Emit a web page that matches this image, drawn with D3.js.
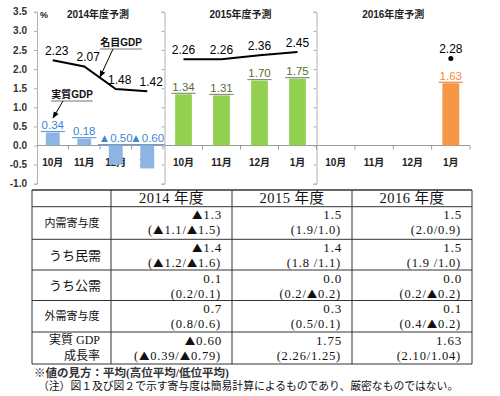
<!DOCTYPE html>
<html><head><meta charset="utf-8">
<script src="https://cdn.jsdelivr.net/npm/d3@7"></script>
<style>
html,body{margin:0;padding:0;background:#fff;}
svg{display:block;}
</style></head>
<body>
<svg id="c" width="500" height="396"></svg>
<script>
// ---------- data ----------
const months = ["10月","11月","12月","1月"];
const yTicks = [3.5,3.0,2.5,2.0,1.5,1.0,0.5,0.0,-0.5,-1.0];
const panelTitles = ["2014年度予測","2015年度予測","2016年度予測"];
const real2014 = [0.34, 0.18, -0.50, -0.60];
const nominal2014 = [2.23, 2.07, 1.48, 1.42];
const real2015 = [1.34, 1.31, 1.70, 1.75];
const nominal2015 = [2.26, 2.26, 2.36, 2.45];
const real2016 = [null, null, null, 1.63];
const nominal2016 = [null, null, null, 2.28];

const tableCols = ["2014 年度","2015 年度","2016 年度"];
const rowLabels = [["内需寄与度"],["うち民需"],["うち公需"],["外需寄与度"],["実質 GDP","成長率"]];
const avgValues = [
  ["▲1.3","1.5","1.5"],
  ["▲1.4","1.4","1.5"],
  ["0.1","0.0","0.0"],
  ["0.7","0.3","0.1"],
  ["▲0.60","1.75","1.63"]
];
const rangeValues = [
  ["(▲1.1/▲1.5)","(1.9/1.0)","(2.0/0.9)"],
  ["(▲1.2/▲1.6)","(1.8 /1.1)","(1.9 /1.0)"],
  ["(0.2/0.1)","(0.2/▲0.2)","(0.2/▲0.2)"],
  ["(0.8/0.6)","(0.5/0.1)","(0.4/▲0.2)"],
  ["(▲0.39/▲0.79)","(2.26/1.25)","(2.10/1.04)"]
];
const footnote1 = "※値の見方：平均(高位平均/低位平均)";
const footnote2 = "（注）図１及び図２で示す寄与度は簡易計算によるものであり、厳密なものではない。";

// ---------- chart ----------
const svg = d3.select("#c");
const sans = "'Liberation Sans','Noto Sans CJK JP',sans-serif";
const serif = "'Liberation Serif','Noto Sans CJK JP',serif";
const cjk = "'Noto Sans CJK JP',sans-serif";
const y = d3.scaleLinear().domain([-1, 3.5]).range([183.7, 11.8]);
const fmt = v => (v < 0 ? "▲" : "") + Math.abs(v).toFixed(2);

// write text, rendering ▲ with a CJK glyph
function richText(t, str, triSize) {
  str.split(/(▲)/).filter(s => s.length).forEach(part => {
    const ts = t.append("tspan").text(part);
    if (part === "▲") ts.attr("font-family", cjk).attr("font-size", triSize);
  });
  return t;
}

svg.append("defs").append("marker").attr("id","arr")
  .attr("viewBox","0 0 10 10").attr("refX",9).attr("refY",5)
  .attr("markerWidth",7).attr("markerHeight",7).attr("orient","auto")
  .append("path").attr("d","M0,1 L10,5 L0,9 z").attr("fill","#000");

svg.append("g").selectAll("text").data(yTicks).join("text")
  .attr("x", 27).attr("y", d => y(d) + 3.5).attr("text-anchor","end")
  .attr("font-family", sans).attr("font-size", 10).attr("font-weight","bold")
  .attr("fill","#333").text(d => d.toFixed(1));

const panels = [
  {x0:37, x1:163, real:real2014, nom:nominal2014, barColor:"#8db4e2", labColor:"#3b87d6", ulColor:"#6a9fd8"},
  {x0:164.5, x1:316.5, real:real2015, nom:nominal2015, barColor:"#92d050", labColor:"#5b6b37", ulColor:"#8a8f80"},
  {x0:316.5, x1:470, real:real2016, nom:nominal2016, barColor:"#f79646", labColor:"#f08a3a", ulColor:"#f08a3a"}
];

panels.forEach((p, pi) => {
  const g = svg.append("g");
  const x = d3.scaleBand().domain(months).range([p.x0, p.x1]).padding(0);
  const bw = x.bandwidth() * 0.44;
  const cx = m => x(m) + x.bandwidth()/2;

  const yAxis = d3.axisLeft(y).tickValues(yTicks).tickSize(3).tickFormat("");
  g.append("g").attr("transform",`translate(${p.x0},0)`).call(yAxis)
    .call(s => s.selectAll("line,path").attr("stroke","#b0b0b0"));
  g.append("line").attr("x1",p.x0).attr("x2",p.x1).attr("y1",y(0)).attr("y2",y(0))
    .attr("stroke","#9a9a9a");
  g.selectAll(".xt").data(months.slice(1).concat(["end"])).join("line")
    .attr("x1", (d,i) => i < 3 ? x(d) : p.x1).attr("x2", (d,i) => i < 3 ? x(d) : p.x1)
    .attr("y1", y(0)).attr("y2", y(0) + 4).attr("stroke","#9a9a9a");
  g.selectAll(".ml").data(months).join("text")
    .attr("x", d => cx(d)).attr("y", 165.5).attr("text-anchor","middle")
    .attr("font-family", sans).attr("font-size", 10).attr("font-weight","bold")
    .attr("fill","#222").text(d => d);
  g.append("text").attr("x", (p.x0 + p.x1)/2 + (pi===0?-2:0)).attr("y", 18).attr("text-anchor","middle")
    .attr("font-family", sans).attr("font-size", 10).attr("font-weight","bold")
    .attr("fill","#222").text(panelTitles[pi]);

  const bars = months.map((m,i) => ({m, v:p.real[i]})).filter(d => d.v !== null);
  g.selectAll(".bar").data(bars).join("rect")
    .attr("x", d => cx(d.m) - bw/2).attr("width", bw)
    .attr("y", d => y(Math.max(0, d.v))).attr("height", d => Math.abs(y(d.v) - y(0)))
    .attr("fill", p.barColor);
  bars.forEach(d => {
    const top = y(Math.max(0, d.v));
    const t = g.append("text").attr("x", cx(d.m)).attr("y", top - 3.5).attr("text-anchor","middle")
      .attr("font-family", sans).attr("font-size", 11.5).attr("fill", p.labColor).text(fmt(d.v));
    const w = t.node().getComputedTextLength();
    g.append("line").attr("x1", cx(d.m) - w/2 - 1).attr("x2", cx(d.m) + w/2 + 1)
      .attr("y1", top - 1).attr("y2", top - 1).attr("stroke", p.ulColor).attr("stroke-width", 1.2);
  });

  const pts = months.map((m,i) => ({m, v:p.nom[i]})).filter(d => d.v !== null);
  if (pts.length > 1) {
    g.append("path").datum(pts)
      .attr("d", d3.line().x(d => cx(d.m)).y(d => y(d.v)))
      .attr("fill","none").attr("stroke","#000").attr("stroke-width", 2);
  } else {
    g.selectAll(".dot").data(pts).join("circle")
      .attr("cx", d => cx(d.m)).attr("cy", d => y(d.v)).attr("r", 2.5).attr("fill","#000");
  }
  g.selectAll(".nl").data(pts).join("text")
    .attr("x", d => cx(d.m) + (pi===0 ? 4 : 0)).attr("y", d => y(d.v) - 5)
    .attr("text-anchor","middle").attr("font-family", sans).attr("font-size", 12)
    .attr("fill","#000").text(d => d.v.toFixed(2));
});

svg.append("text").attr("x", 40).attr("y", 18).attr("font-family", sans)
  .attr("font-size", 9).attr("font-weight","bold").attr("fill","#222").text("%");

function annot(label, tx, ty, ax1, ay1, ax2, ay2) {
  const t = svg.append("text").attr("x", tx).attr("y", ty).attr("text-anchor","middle")
    .attr("font-family", sans).attr("font-size", 10).attr("font-weight","bold").attr("fill","#111").text(label);
  const w = t.node().getComputedTextLength();
  svg.append("line").attr("x1", tx - w/2).attr("x2", tx + w/2).attr("y1", ty + 3).attr("y2", ty + 3)
    .attr("stroke","#777").attr("stroke-width", 1);
  svg.append("line").attr("x1", ax1).attr("y1", ay1).attr("x2", ax2).attr("y2", ay2)
    .attr("stroke","#000").attr("stroke-width", 1).attr("marker-end","url(#arr)");
}
annot("名目GDP", 121, 46, 113, 49, 100, 77);
annot("実質GDP", 72, 98, 63, 101, 53, 118);

// ---------- table ----------
const tbl = svg.append("g");
const colX = [32, 111, 232, 352, 472];
const rowY = [190, 206.7, 239.3, 270, 300.5, 332, 364];
const lineCol = "#333";
rowY.forEach((yy,i) => tbl.append("line").attr("x1", colX[0]).attr("x2", colX[4])
  .attr("y1", yy).attr("y2", yy).attr("stroke", lineCol).attr("stroke-width", i===0 ? 1.6 : 1));
colX.forEach(xx => tbl.append("line").attr("x1", xx).attr("x2", xx)
  .attr("y1", rowY[0]).attr("y2", rowY[6]).attr("stroke", lineCol).attr("stroke-width", 1));

tbl.selectAll(".hd").data(tableCols).join("text")
  .attr("x", (d,i) => (colX[i+1] + colX[i+2])/2).attr("y", 203).attr("text-anchor","middle")
  .attr("font-family", serif).attr("font-size", 14.5).attr("letter-spacing", 0.5).attr("fill","#111").text(d => d);

rowLabels.forEach((lab, r) => {
  const top = rowY[r+1], bot = rowY[r+2], mid = (top + bot)/2;
  if (lab.length === 1) {
    const small = lab[0].length >= 5;
    tbl.append("text").attr("x", small ? 72 : 101).attr("y", mid + (small ? 4 : 5))
      .attr("text-anchor", small ? "middle" : "end")
      .attr("font-family", serif).attr("font-size", small ? 11 : 13).attr("fill","#111").text(lab[0]);
  } else {
    lab.forEach((l, k) => tbl.append("text").attr("x", 100).attr("y", top + 12 + k*15.5)
      .attr("text-anchor","end").attr("font-family", serif).attr("font-size", 12)
      .attr("fill","#111").text(l));
  }
  for (let c = 0; c < 3; c++) {
    const rx = colX[c+2] - 10;
    richText(tbl.append("text").attr("x", rx).attr("y", top + 12.5).attr("text-anchor","end")
      .attr("font-family", serif).attr("font-size", 13).attr("letter-spacing", 0.8)
      .attr("fill","#111"), avgValues[r][c], 10.5);
    richText(tbl.append("text").attr("x", rx - 1).attr("y", top + 27.5).attr("text-anchor","end")
      .attr("font-family", serif).attr("font-size", 12.5).attr("letter-spacing", 0.8)
      .attr("fill","#111"), rangeValues[r][c], 10.5);
  }
});

svg.append("text").attr("x", 34).attr("y", 376.5).attr("font-family", serif)
  .attr("font-size", 11.5).attr("font-weight","bold").attr("fill","#333").text(footnote1);
svg.append("text").attr("x", 38).attr("y", 390).attr("font-family", serif)
  .attr("font-size", 10.8).attr("fill","#111").text(footnote2);
</script>
</body></html>
